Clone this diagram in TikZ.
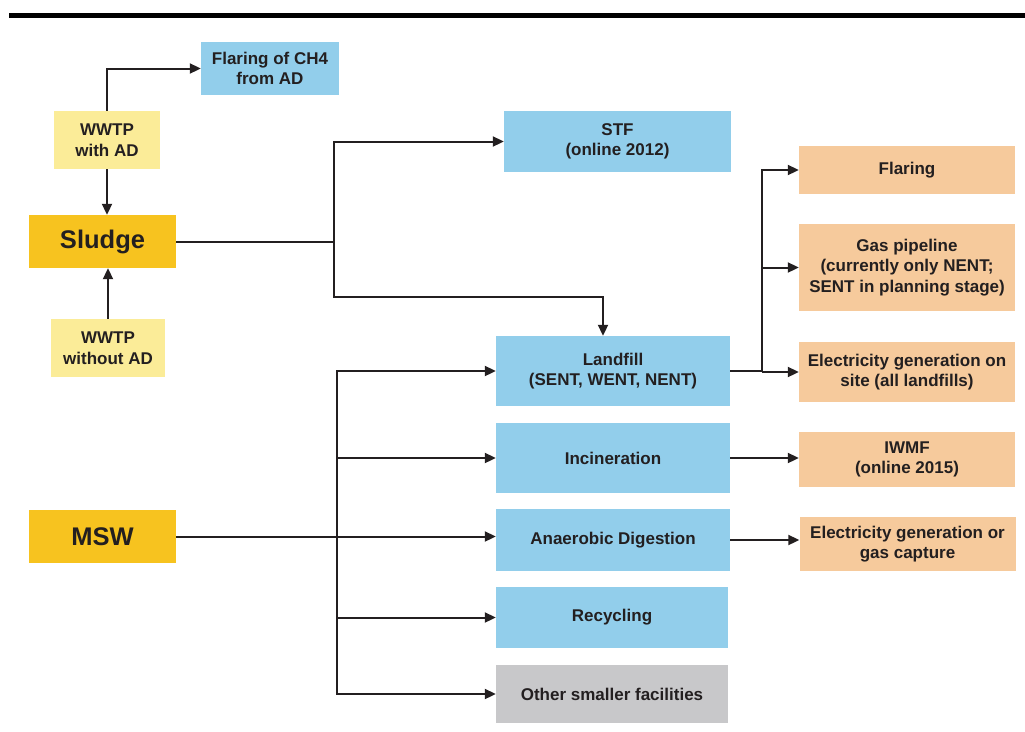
\documentclass[tikz,border=0pt]{standalone}
\usepackage{fontspec}
\setmainfont{Liberation Sans}
\definecolor{swblue}{RGB}{146,206,235}
\definecolor{swpeach}{RGB}{246,202,156}
\definecolor{swyellow}{RGB}{251,236,152}
\definecolor{swgold}{RGB}{247,195,31}
\definecolor{swgray}{RGB}{200,200,202}
\definecolor{swtext}{RGB}{35,31,32}
\usetikzlibrary{arrows.meta,positioning,calc}

\begin{document}
\begin{tikzpicture}[x=1pt, y=-1pt,
  box/.style={inner sep=2pt, align=center, text=swtext,
              font=\fontsize{17}{20.5}\selectfont\bfseries},
  bluebox/.style={box, fill=swblue},
  peachbox/.style={box, fill=swpeach, minimum width=216pt},
  plantbox/.style={box, fill=swyellow},
  sourcebox/.style={box, fill=swgold, font=\fontsize{25.5}{30}\selectfont\bfseries},
  otherbox/.style={box, fill=swgray},
  line/.style={draw=swtext, line width=2pt},
  arr/.style={line, -{Triangle[length=11pt,width=10pt]}}]

\useasboundingbox (0,0) rectangle (1025,731);

% --- Top rule ---
\fill[black] (9,13) rectangle (1025,18);

% --- Sources ---
\node[sourcebox, minimum width=147pt, minimum height=53pt] (sludge) at (102.5,241.5) {Sludge};
\node[sourcebox, minimum width=147pt, minimum height=53pt] (msw) at (102.5,536.5) {MSW};
\node[plantbox, minimum width=106pt, minimum height=58pt] (wwtpAD) at (107,140) {WWTP\\with AD};
\node[plantbox, minimum width=114pt, minimum height=58pt] (wwtpNo) at (108,348) {WWTP\\without AD};
\node[bluebox, minimum width=138pt, minimum height=53pt] (flareCH4) at (270,68.5) {Flaring of CH4\\from AD};

% --- Treatment ---
\node[bluebox, minimum width=227pt, minimum height=61pt] (stf) at (617.5,141.5) {STF\\(online 2012)};
\node[bluebox, minimum width=234pt, minimum height=70pt] (landfill) at (613,371) {Landfill\\(SENT, WENT, NENT)};
\node[bluebox, minimum width=234pt, minimum height=70pt] (incin) at (613,458) {Incineration};
\node[bluebox, minimum width=234pt, minimum height=62pt] (anaer) at (613,540) {Anaerobic Digestion};
\node[bluebox, minimum width=232pt, minimum height=61pt] (recyc) at (612,617.5) {Recycling};
\node[otherbox, minimum width=232pt, minimum height=58pt] (other) at (612,694) {Other smaller facilities};

% --- Outputs ---
\node[peachbox, minimum height=48pt] (flaring) at (907,170) {Flaring};
\node[peachbox, minimum height=87pt] (gaspipe) at (907,267.5) {Gas pipeline\\(currently only NENT;\\SENT in planning stage)};
\node[peachbox, minimum height=60pt] (elecsite) at (907,372) {Electricity generation on\\site (all landfills)};
\node[peachbox, minimum height=55pt] (iwmf) at (907,459.5) {IWMF\\(online 2015)};
\node[peachbox, minimum height=54pt] (elecgas) at (907.5,544) {Electricity generation or\\gas capture};

% --- Sludge connectors ---
\draw[arr] (wwtpAD.north) |- (flareCH4.west);
\draw[arr] (wwtpAD.south) -- (wwtpAD.south |- sludge.north);
\draw[arr] (wwtpNo.north) -- (wwtpNo.north |- sludge.south);
\coordinate (sj) at (334,241.5);
\coordinate (sbend) at (603,297);
\draw[line] (sludge.east) -- (sj);
\draw[arr] (sj) |- (stf.west);
\draw[arr] (sj) |- (sbend) -- (sbend |- landfill.north);

% --- MSW connectors ---
\coordinate (mj) at (337,536.5);
\draw[arr] (msw.east) -- (msw.east -| anaer.west);
\draw[arr] (mj) |- (landfill.west);
\draw[arr] (mj) |- (other.west);
\draw[arr] (mj |- incin.west) -- (incin.west);
\draw[arr] (mj |- recyc.west) -- (recyc.west);

% --- Landfill gas ---
\coordinate (lj) at (762,372);
\draw[line] (landfill.east) -- (landfill.east -| lj);
\draw[arr] (lj) |- (flaring.west);
\draw[arr] (lj |- gaspipe.west) -- (gaspipe.west);
\draw[arr] (lj) -- (elecsite.west);

% --- Energy recovery ---
\draw[arr] (incin.east) -- (incin.east -| iwmf.west);
\draw[arr] (anaer.east) -- (anaer.east -| elecgas.west);

\end{tikzpicture}
\end{document}
